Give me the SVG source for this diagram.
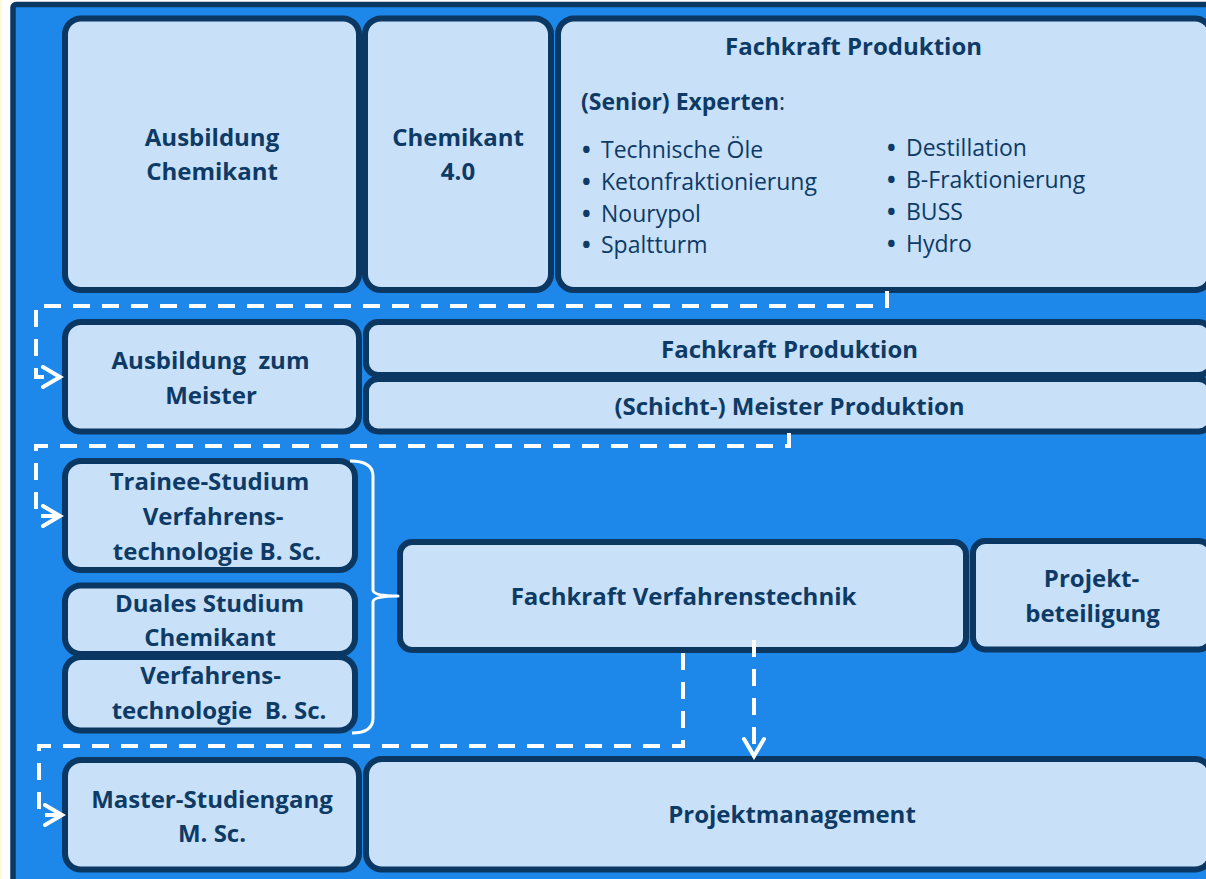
<svg xmlns="http://www.w3.org/2000/svg" width="1206" height="879" viewBox="0 0 1206 879">
  <defs>
    <style>
      .panel { fill: #1d88e9; stroke: #0b3763; stroke-width: 5.5; }
      .box { fill: #c8e1f9; stroke: #0b3763; stroke-width: 6; }
      .t { font-family: "Open Sans", "Liberation Sans", sans-serif; font-size: 24px; font-weight: 700; fill: #0e3a66; text-anchor: middle; white-space: pre; }
      .l { font-family: "Open Sans", "Liberation Sans", sans-serif; font-size: 23px; font-weight: 400; fill: #0e3a66; }
      .b { font-weight: 700; }
      .flow { fill: none; stroke: #ffffff; stroke-width: 4; stroke-dasharray: 17 12; }
      .brace { fill: none; stroke: #ffffff; stroke-width: 3; stroke-linejoin: round; }
    </style>
    <marker id="chev" viewBox="0 0 24 24" markerUnits="userSpaceOnUse" markerWidth="24" markerHeight="24" refX="20" refY="12" orient="auto">
      <path d="M3,2 L20,12 L3,22" fill="none" stroke="#ffffff" stroke-width="4" stroke-dasharray="none" stroke-linecap="round" stroke-linejoin="miter"/>
    </marker>
  </defs>

  <!-- page background and outer panel -->
  <rect x="0" y="0" width="1206" height="879" fill="#ffffff"/>
  <rect x="0" y="0" width="2" height="879" fill="#fdfbd6"/>
  <rect class="panel" x="13" y="4.5" width="1220" height="900" rx="3"/>

  <!-- row 1 -->
  <g id="ausbildung-chemikant">
    <rect class="box" x="65" y="18.5" width="294" height="271.5" rx="16"/>
    <text class="t" x="212" y="146">Ausbildung</text>
    <text class="t" x="212" y="180">Chemikant</text>
  </g>
  <g id="chemikant-40">
    <rect class="box" x="365" y="18.5" width="186" height="271.5" rx="16"/>
    <text class="t" x="458" y="146">Chemikant</text>
    <text class="t" x="458" y="180">4.0</text>
  </g>
  <g id="fachkraft-produktion-experten">
    <rect class="box" x="558" y="18.5" width="653" height="271.5" rx="16"/>
    <text class="t" x="853.5" y="55">Fachkraft Produktion</text>
    <text class="l" x="581" y="110"><tspan font-weight="700">(Senior) Experten</tspan>:</text>
    <g class="l">
      <text y="158"><tspan class="b" x="582">•</tspan><tspan x="601">Technische Öle</tspan></text>
      <text y="190"><tspan class="b" x="582">•</tspan><tspan x="601">Ketonfraktionierung</tspan></text>
      <text y="221.5"><tspan class="b" x="582">•</tspan><tspan x="601">Nourypol</tspan></text>
      <text y="253"><tspan class="b" x="582">•</tspan><tspan x="601">Spaltturm</tspan></text>
      <text y="156"><tspan class="b" x="887">•</tspan><tspan x="906">Destillation</tspan></text>
      <text y="188"><tspan class="b" x="887">•</tspan><tspan x="906">B-Fraktionierung</tspan></text>
      <text y="220"><tspan class="b" x="887">•</tspan><tspan x="906">BUSS</tspan></text>
      <text y="252"><tspan class="b" x="887">•</tspan><tspan x="906">Hydro</tspan></text>
    </g>
  </g>

  <!-- row 2 -->
  <g id="ausbildung-meister">
    <rect class="box" x="65" y="322" width="294" height="109.5" rx="16"/>
    <text class="t" x="210.5" y="369">Ausbildung  zum</text>
    <text class="t" x="211" y="404">Meister</text>
  </g>
  <g id="fachkraft-produktion">
    <rect class="box" x="366" y="322" width="845" height="53" rx="12"/>
    <text class="t" x="789.5" y="358">Fachkraft Produktion</text>
  </g>
  <g id="meister-produktion">
    <rect class="box" x="366" y="379" width="845" height="52.5" rx="12"/>
    <text class="t" x="789.5" y="415">(Schicht-) Meister Produktion</text>
  </g>

  <!-- row 3 -->
  <g id="trainee-studium">
    <rect class="box" x="65" y="461" width="290" height="109" rx="16"/>
    <text class="t" x="209.5" y="490">Trainee-Studium</text>
    <text class="t" x="213" y="525">Verfahrens-</text>
    <text class="t" x="217" y="560">technologie B. Sc.</text>
  </g>
  <g id="duales-studium">
    <rect class="box" x="65" y="585.5" width="290" height="68.5" rx="16"/>
    <text class="t" x="209.5" y="612">Duales Studium</text>
    <text class="t" x="210" y="646">Chemikant</text>
  </g>
  <g id="verfahrenstechnologie">
    <rect class="box" x="65" y="657" width="290" height="73.5" rx="16"/>
    <text class="t" x="210.5" y="684">Verfahrens-</text>
    <text class="t" x="219" y="719">technologie  B. Sc.</text>
  </g>
  <g id="fachkraft-verfahrenstechnik">
    <rect class="box" x="400" y="542" width="566" height="108" rx="12"/>
    <text class="t" x="683.5" y="605">Fachkraft Verfahrenstechnik</text>
  </g>
  <g id="projektbeteiligung">
    <rect class="box" x="973" y="541" width="238" height="108.5" rx="12"/>
    <text class="t" x="1091.5" y="587">Projekt-</text>
    <text class="t" x="1092.5" y="622">beteiligung</text>
  </g>

  <!-- row 4 -->
  <g id="master-studiengang">
    <rect class="box" x="65" y="760" width="294" height="109.5" rx="16"/>
    <text class="t" x="212" y="808">Master-Studiengang</text>
    <text class="t" x="212" y="842">M. Sc.</text>
  </g>
  <g id="projektmanagement">
    <rect class="box" x="366" y="759" width="845" height="110.5" rx="16"/>
    <text class="t" x="792" y="823">Projektmanagement</text>
  </g>

  <!-- connectors -->
  <g id="connectors">
    <path class="flow" d="M887,291 V306 H36 V377 H60" marker-end="url(#chev)"/>
    <path class="flow" d="M789,433 V446 H36 V516 H60" marker-end="url(#chev)"/>
    <path class="flow" d="M683,653 V746 H39 V815 H62" marker-end="url(#chev)"/>
    <path class="flow" d="M754,640 V756" stroke-dasharray="14 13" marker-end="url(#chev)"/>
    <path class="brace" d="M350,461 Q373,461 373,476 L373,590 Q373,596 398,596 Q373,596 373,602 L373,718 Q373,733 352,733"/>
  </g>
</svg>
